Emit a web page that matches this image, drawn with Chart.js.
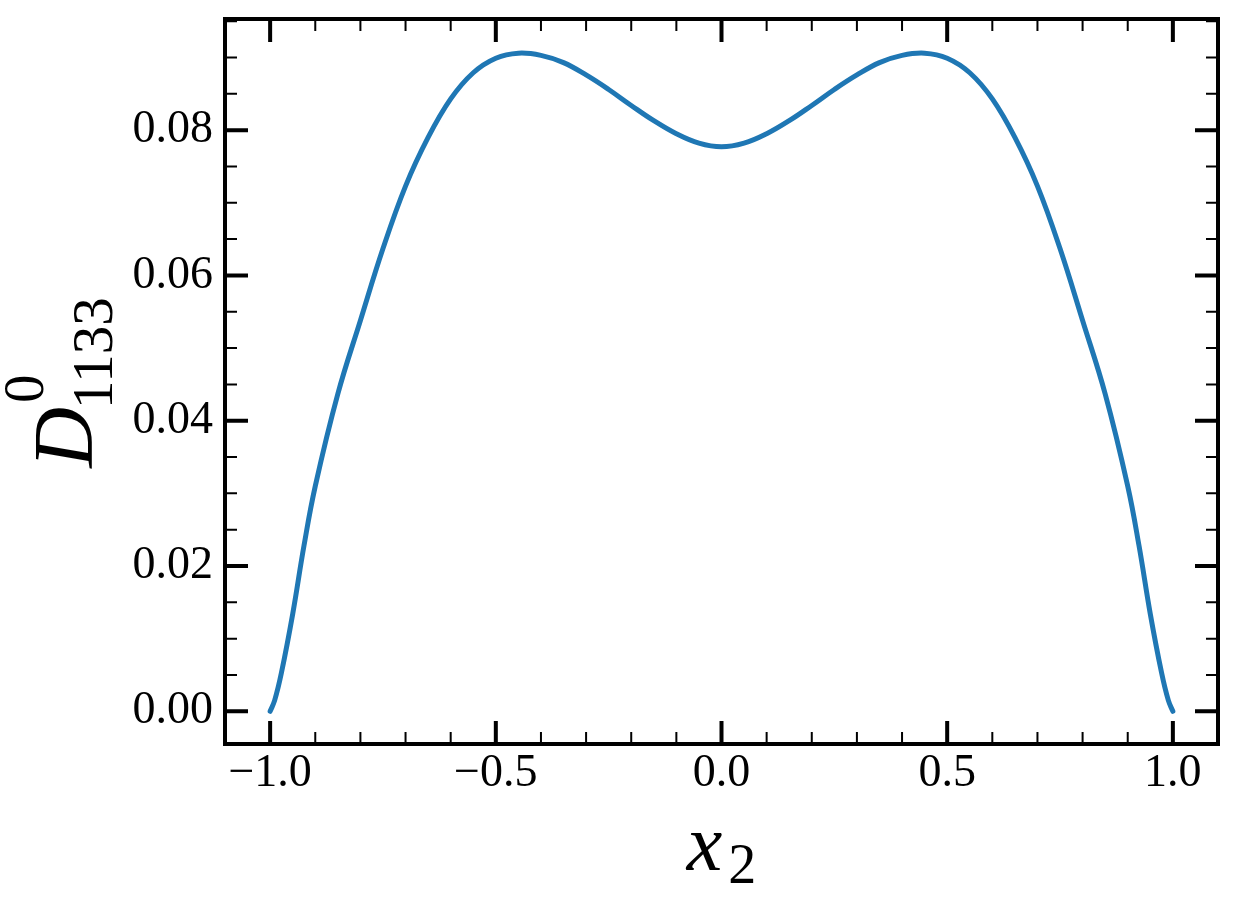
<!DOCTYPE html>
<html>
<head>
<meta charset="utf-8">
<script src="https://cdn.jsdelivr.net/npm/chart.js@4.4.1/dist/chart.umd.min.js"></script>
<style>
  html, body { margin: 0; padding: 0; background: #fff; }
  #wrap { width: 1237px; height: 908px; }
</style>
</head>
<body>
<div id="wrap"><canvas id="chart" width="1237" height="908"></canvas></div>
<script>
// curve
const xValues = [
  -1.0, -0.99, -0.975, -0.95, -0.925, -0.9, -0.85, -0.8, -0.75, -0.7, -0.65, -0.6,
  -0.55, -0.5, -0.45, -0.4, -0.35, -0.3, -0.25, -0.2, -0.15, -0.1, -0.05, 0.0,
  0.05, 0.1, 0.15, 0.2, 0.25, 0.3, 0.35, 0.4, 0.45, 0.5, 0.55,
  0.6, 0.65, 0.7, 0.75, 0.8, 0.85, 0.9, 0.925, 0.95, 0.975, 0.99, 1.0
];
const dValues = [
  0.0, 0.0015, 0.0053, 0.0134, 0.0228, 0.0310, 0.0437, 0.0538, 0.0637, 0.0723, 0.0790, 0.0843,
  0.0879, 0.0899, 0.0906, 0.0903, 0.0893, 0.0876, 0.0856, 0.0834, 0.0813, 0.0795, 0.0782, 0.0777,
  0.0782, 0.0795, 0.0813, 0.0834, 0.0856, 0.0876, 0.0893, 0.0903, 0.0906, 0.0899, 0.0879,
  0.0843, 0.0790, 0.0723, 0.0637, 0.0538, 0.0437, 0.0310, 0.0228, 0.0134, 0.0053, 0.0015, 0.0
];

// axis ticks
const xTicks = [-1.0, -0.5, 0.0, 0.5, 1.0];
const yTicks = [0.0, 0.02, 0.04, 0.06, 0.08];
const xMinorStep = 0.1;
const yMinorStep = 0.005;
const xRange = [-1.1, 1.1];
const yRange = [-0.0045, 0.0953];

const serif = "'Liberation Serif', 'Times New Roman', serif";

// frame, inward ticks on all sides, axis titles
const framePlugin = {
  id: "frame",
  afterDraw(chart) {
    const ctx = chart.ctx;
    const a = chart.chartArea;
    const xs = chart.scales.x, ys = chart.scales.y;
    ctx.save();
    ctx.strokeStyle = "#000";

    const minor = (lo, hi, step, majors) => {
      const out = [];
      for (let i = Math.ceil(lo / step); i * step <= hi + 1e-12; i++) {
        const v = i * step;
        if (!majors.some(m => Math.abs(m - v) < step / 10)) out.push(v);
      }
      return out;
    };

    const tickX = (vals, len, w) => {
      ctx.lineWidth = w;
      vals.forEach(v => {
        const p = xs.getPixelForValue(v);
        ctx.beginPath();
        ctx.moveTo(p, a.bottom); ctx.lineTo(p, a.bottom - len);
        ctx.moveTo(p, a.top); ctx.lineTo(p, a.top + len);
        ctx.stroke();
      });
    };
    const tickY = (vals, len, w) => {
      ctx.lineWidth = w;
      vals.forEach(v => {
        const p = ys.getPixelForValue(v);
        ctx.beginPath();
        ctx.moveTo(a.left, p); ctx.lineTo(a.left + len, p);
        ctx.moveTo(a.right, p); ctx.lineTo(a.right - len, p);
        ctx.stroke();
      });
    };

    tickX(minor(xRange[0], xRange[1], xMinorStep, xTicks), 12, 2);
    tickY(minor(yRange[0], yRange[1], yMinorStep, yTicks), 12, 2);
    tickX(xTicks, 23, 4);
    tickY(yTicks, 23, 4);

    ctx.lineWidth = 4;
    ctx.strokeRect(a.left, a.top, a.right - a.left, a.bottom - a.top);

    // x title: x_2
    ctx.fillStyle = "#000";
    ctx.textBaseline = "alphabetic";
    ctx.textAlign = "left";
    ctx.font = "italic 80px " + serif;
    const wx = ctx.measureText("x").width;
    ctx.font = "56px " + serif;
    const w2 = ctx.measureText("2").width;
    const cx = (a.left + a.right) / 2;
    let sx = cx - (wx + 6 + w2) / 2;
    ctx.font = "italic 80px " + serif;
    ctx.fillText("x", sx, 870);
    ctx.font = "56px " + serif;
    ctx.fillText("2", sx + wx + 6, 883);

    // y title: D^0_1133, rotated
    ctx.font = "italic 84px " + serif;
    const wD = ctx.measureText("D").width;
    ctx.font = "57px " + serif;
    const wSub = ctx.measureText("1133").width;
    const total = wD + wSub;
    const cy = (a.top + a.bottom) / 2;
    ctx.translate(92, cy + total / 2);
    ctx.rotate(-Math.PI / 2);
    ctx.font = "italic 84px " + serif;
    ctx.fillText("D", 0, 0);
    ctx.font = "57px " + serif;
    ctx.fillText("1133", wD - 2, 20);
    ctx.fillText("0", wD + 4, -49);
    ctx.restore();
  }
};

const noPad = s => { s.paddingTop = 0; s.paddingBottom = 0; s.paddingLeft = 0; s.paddingRight = 0; };

new Chart(document.getElementById("chart"), {
  type: "line",
  data: {
    datasets: [{
      data: xValues.map((x, i) => ({ x: x, y: dValues[i] })),
      borderColor: "#1f77b4",
      borderWidth: 5,
      pointRadius: 0,
      fill: false,
      tension: 0.4,
      borderCapStyle: "round",
      borderJoinStyle: "round"
    }]
  },
  options: {
    responsive: false,
    animation: false,
    layout: { padding: { top: 19, right: 19, left: 0, bottom: 0 } },
    plugins: { legend: { display: false }, tooltip: { enabled: false } },
    scales: {
      x: {
        type: "linear",
        min: xRange[0],
        max: xRange[1],
        afterBuildTicks: s => { s.ticks = xTicks.map(v => ({ value: v })); },
        afterFit: s => { s.height = 164; noPad(s); },
        grid: { display: false, drawTicks: false },
        border: { display: false },
        ticks: {
          padding: 2,
          color: "#000",
          maxRotation: 0,
          font: { family: serif, size: 46 },
          callback: v => v.toFixed(1).replace("-", "\u2212")
        }
      },
      y: {
        type: "linear",
        min: yRange[0],
        max: yRange[1],
        afterBuildTicks: s => { s.ticks = yTicks.map(v => ({ value: v })); },
        afterFit: s => { s.width = 225; noPad(s); },
        grid: { display: false, drawTicks: false },
        border: { display: false },
        ticks: {
          padding: 12,
          color: "#000",
          font: { family: serif, size: 46 },
          callback: v => v.toFixed(2)
        }
      }
    }
  },
  plugins: [framePlugin]
});
</script>
</body>
</html>
